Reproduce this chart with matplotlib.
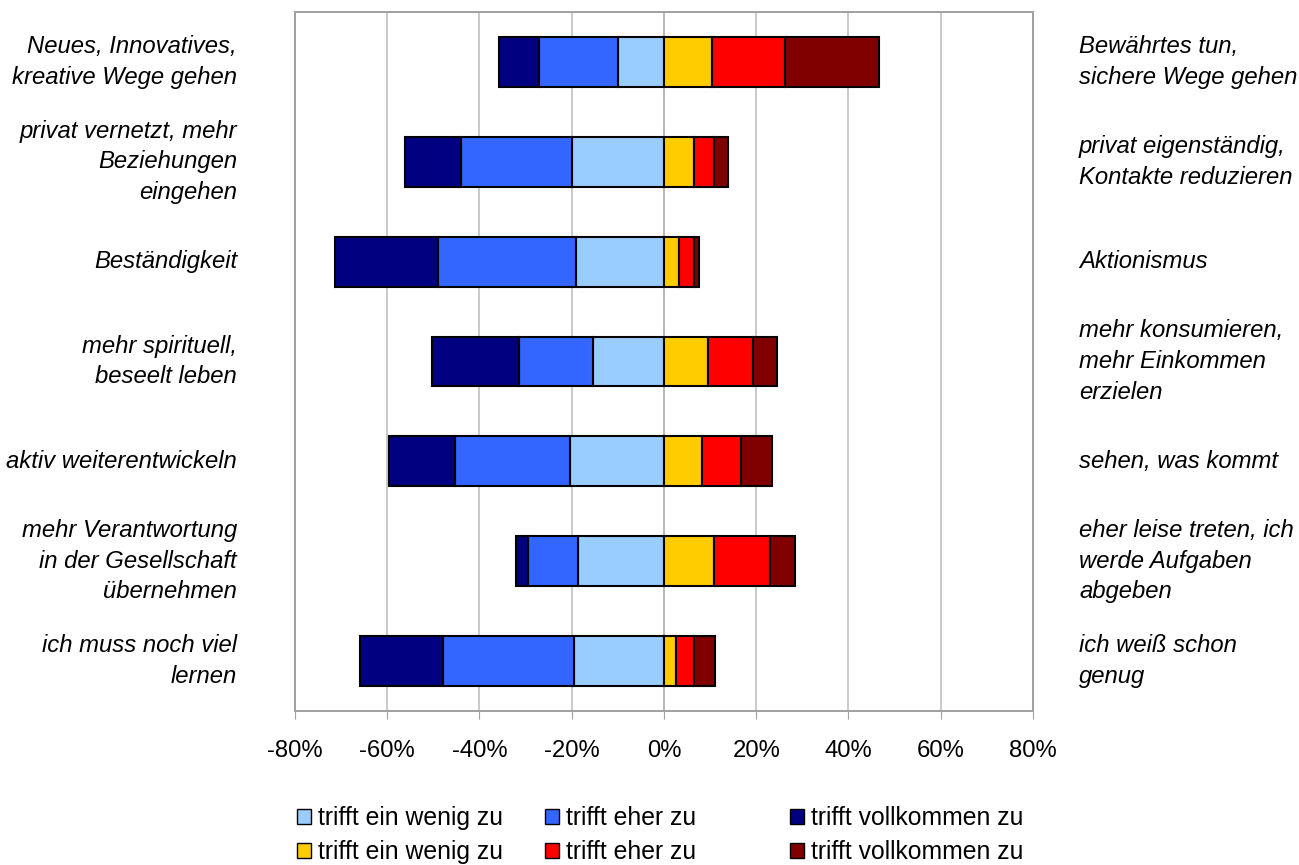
import matplotlib.pyplot as plt
import numpy as np
from matplotlib.patches import Patch
from matplotlib.ticker import FuncFormatter

plt.rcParams['font.family'] = ['Liberation Sans', 'DejaVu Sans']

left_labels = [
    "Neues, Innovatives,\nkreative Wege gehen",
    "privat vernetzt, mehr\nBeziehungen\neingehen",
    "Beständigkeit",
    "mehr spirituell,\nbeseelt leben",
    "aktiv weiterentwickeln",
    "mehr Verantwortung\nin der Gesellschaft\nübernehmen",
    "ich muss noch viel\nlernen",
]
right_labels = [
    "Bewährtes tun,\nsichere Wege gehen",
    "privat eigenständig,\nKontakte reduzieren",
    "Aktionismus",
    "mehr konsumieren,\nmehr Einkommen\nerzielen",
    "sehen, was kommt",
    "eher leise treten, ich\nwerde Aufgaben\nabgeben",
    "ich weiß schon\ngenug",
]

# left side (shares in %)
left_wenig = [10.0, 20.0, 19.1, 15.4, 20.3, 18.7, 19.6]
left_eher = [17.1, 24.0, 30.0, 16.1, 25.0, 10.7, 28.3]
left_voll = [8.6, 12.2, 22.2, 18.9, 14.3, 2.6, 18.0]
# right side (shares in %)
right_wenig = [10.4, 6.6, 3.3, 9.5, 8.2, 10.8, 2.7]
right_eher = [15.8, 4.2, 3.3, 9.7, 8.5, 12.1, 3.9]
right_voll = [20.5, 3.0, 0.9, 5.4, 6.7, 5.5, 4.4]

legend_text = ["trifft ein wenig zu", "trifft eher zu", "trifft vollkommen zu"]
left_colors = ["#99CCFF", "#3366FF", "#000080"]
right_colors = ["#FFCC00", "#FF0000", "#800000"]

FS = 17.2

fig = plt.figure(figsize=(12.99, 8.65), dpi=100)
ax = fig.add_axes([295 / 1299, 1 - 711 / 865, (1033 - 295) / 1299, (711 - 12) / 865])

y = np.arange(len(left_labels))
edge = dict(edgecolor="black", linewidth=1.5, height=0.5, zorder=3)

start = np.zeros(len(y))
for vals, col in zip([left_wenig, left_eher, left_voll], left_colors):
    v = np.array(vals) / 100
    ax.barh(y, -v, left=-start, color=col, **edge)
    start = start + v

start = np.zeros(len(y))
for vals, col in zip([right_wenig, right_eher, right_voll], right_colors):
    v = np.array(vals) / 100
    ax.barh(y, v, left=start, color=col, **edge)
    start = start + v

ax.set_xlim(-0.8, 0.8)
ax.set_ylim(len(y) - 0.5, -0.5)
ax.set_xticks(np.arange(-0.8, 0.81, 0.2))
ax.xaxis.set_major_formatter(FuncFormatter(lambda x, p: f"{x * 100:.0f}%".replace("-0%", "0%")))
ax.set_yticks([])
ax.tick_params(axis="x", labelsize=FS, length=6, pad=15, color="#a0a0a0")
ax.grid(axis="x", color="#c0c0c0", linewidth=1.2, zorder=0)
ax.axvline(0, color="#909090", linewidth=1.2, zorder=1)
for s in ax.spines.values():
    s.set_color("#a0a0a0")
    s.set_linewidth(1.4)

for i in y:
    ax.text(-58 / 738, i, left_labels[i], transform=ax.get_yaxis_transform(),
            ha="right", va="center", fontsize=FS, style="italic", linespacing=1.42)
    ax.text(1 + 46 / 738, i, right_labels[i], transform=ax.get_yaxis_transform(),
            ha="left", va="center", fontsize=FS, style="italic", linespacing=1.42)

# legend in three fixed-width columns
col_x = [297, 545, 790]
for k in range(3):
    handles = [Patch(facecolor=left_colors[k], edgecolor="black", label=legend_text[k]),
               Patch(facecolor=right_colors[k], edgecolor="black", label=legend_text[k])]
    fig.legend(handles=handles, loc="upper left",
               bbox_to_anchor=(col_x[k] / 1299, 1 - 806 / 865),
               frameon=False, fontsize=17.8, borderpad=0, borderaxespad=0,
               handlelength=0.55, handleheight=0.55, handletextpad=0.3,
               labelspacing=0.4)

fig.savefig("out.png", dpi=100)
